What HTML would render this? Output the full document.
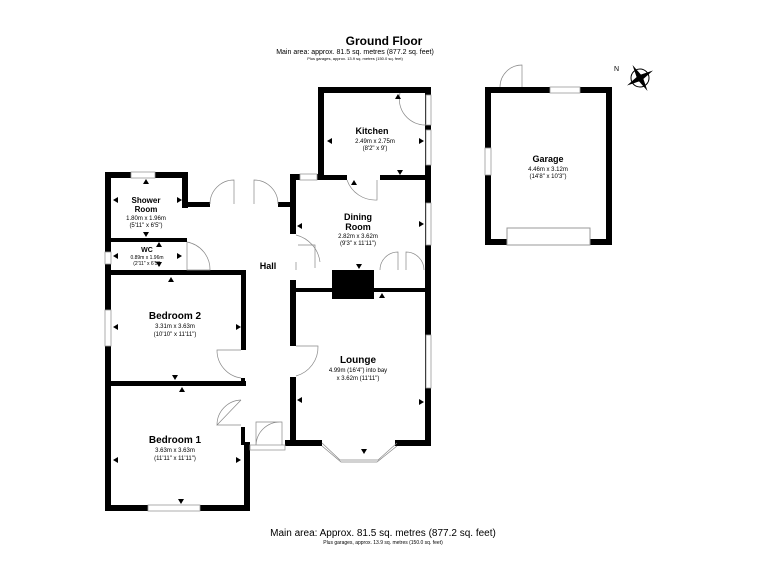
<!DOCTYPE html>
<html><head><style>body{margin:0;background:#fff}svg{display:block}text{font-family:"Liberation Sans",sans-serif;fill:#000}</style></head><body>
<svg width="768" height="576" viewBox="0 0 768 576" xmlns="http://www.w3.org/2000/svg">
<defs>
<path id="tu" d="M-3,2 L3,2 L0,-3Z" fill="#000"/>
<path id="td" d="M-3,-2 L3,-2 L0,3Z" fill="#000"/>
<path id="tl" d="M2,-3 L2,3 L-3,0Z" fill="#000"/>
<path id="tr" d="M-2,-3 L-2,3 L3,0Z" fill="#000"/>
</defs>
<text x="384" y="45" font-size="12" font-weight="bold" text-anchor="middle">Ground Floor</text>
<text x="355" y="54" font-size="7" text-anchor="middle">Main area: approx. 81.5 sq. metres (877.2 sq. feet)</text>
<text x="355" y="60" font-size="4" text-anchor="middle">Plus garages, approx. 13.9 sq. metres (150.0 sq. feet)</text>
<text x="383" y="536" font-size="10" text-anchor="middle">Main area: Approx. 81.5 sq. metres (877.2 sq. feet)</text>
<text x="383" y="544" font-size="5" text-anchor="middle">Plus garages, approx. 13.9 sq. metres (150.0 sq. feet)</text>
<g fill="#000">
<rect x="318" y="87" width="113" height="6"/><rect x="318" y="87" width="6" height="93"/>
<rect x="425" y="87" width="6" height="358"/>
<rect x="324" y="175" width="23" height="5"/><rect x="380" y="175" width="51" height="5"/>
<rect x="290" y="174" width="34" height="6"/><rect x="290" y="174" width="6" height="60"/>
<rect x="278" y="202" width="18" height="5"/>
<rect x="290" y="288" width="141" height="4"/>
<rect x="332" y="270" width="42" height="29"/>
<rect x="290" y="280" width="6" height="66"/><rect x="290" y="377" width="6" height="68"/>
<rect x="285" y="440" width="37" height="6"/><rect x="395" y="440" width="36" height="6"/>
<rect x="105" y="172" width="83" height="6"/><rect x="105" y="172" width="6" height="339"/>
<rect x="182" y="172" width="6" height="36"/><rect x="182" y="202" width="28" height="5"/>
<rect x="111" y="238" width="76" height="4"/>
<rect x="111" y="270" width="135" height="5"/>
<rect x="241" y="270" width="5" height="80"/>
<rect x="111" y="381" width="135" height="5"/>
<rect x="241" y="378" width="4" height="8"/>
<rect x="241" y="427" width="4" height="18"/>
<rect x="244" y="442" width="6" height="69"/>
<rect x="105" y="505" width="145" height="6"/>
<rect x="485" y="87" width="127" height="6"/><rect x="485" y="87" width="6" height="158"/>
<rect x="606" y="87" width="6" height="158"/><rect x="485" y="239" width="127" height="6"/>
</g>
<g fill="#fff" stroke="#999" stroke-width="0.8">
<rect x="426" y="95" width="5" height="30"/><rect x="426" y="130" width="5" height="35"/>
<rect x="426" y="203" width="5" height="42"/><rect x="426" y="335" width="5" height="53"/>
<rect x="300" y="174" width="17" height="6"/><rect x="131" y="172" width="24" height="6"/>
<rect x="105" y="252" width="6" height="12"/><rect x="105" y="310" width="6" height="36"/>
<rect x="148" y="505" width="52" height="6"/>
<rect x="550" y="87" width="30" height="6"/><rect x="485" y="148" width="6" height="27"/>
<rect x="507" y="228" width="83" height="17" stroke-width="1"/>
<rect x="250" y="445" width="35" height="5"/>
<rect x="347" y="175" width="33" height="5" stroke="none"/>
</g>
<g fill="none" stroke="#888" stroke-width="0.7">
<path d="M322,443 L340,460 L378,460 L397,443"/><path d="M322,446 L341,462 L377,462 L397,446"/>
<path d="M210,204 A24 24 0 0 1 234,180 L234,204"/><path d="M278,204 A24 24 0 0 0 254,180 L254,204"/>
<path d="M296,346 L318,346 A30 30 0 0 1 296,376"/>
<path d="M241,350 L217,350 A28 28 0 0 0 241,378"/>
<path d="M241,400 L217,425 L241,425 M241,400 A25 25 0 0 0 217,425"/>
<path d="M256,445 L256,422 L282,422 L282,445 M256,445 A24 24 0 0 1 280,422"/>
<path d="M187,242 L187,270 L210,270 A28 28 0 0 0 187,242"/>
<path d="M296,235 A32 32 0 0 1 320,262"/>
<path d="M296,262 L296,270 M298,245 L315,245 L315,268"/>
<path d="M380,270 A18 18 0 0 1 398,252 L398,270 M424,270 A18 18 0 0 0 406,252 L406,270"/>
<path d="M347,180 A30 30 0 0 0 377,200 L377,180"/>
<path d="M400,93 A26 26 0 0 0 426,125"/>
<path d="M500,87 A22 22 0 0 1 522,65 L522,87"/>
</g>
<g>
<use href="#tu" x="398" y="97"/><use href="#tl" x="330" y="141"/><use href="#tr" x="421" y="141"/><use href="#td" x="400" y="172"/><use href="#tu" x="354" y="183"/>
<use href="#tl" x="300" y="226"/><use href="#tr" x="421" y="224"/><use href="#td" x="359" y="266"/><use href="#tu" x="382" y="296"/>
<use href="#tu" x="146" y="182"/><use href="#tl" x="116" y="200"/><use href="#tr" x="179" y="200"/><use href="#td" x="146" y="234"/>
<use href="#tu" x="159" y="245"/><use href="#tl" x="116" y="256"/><use href="#tr" x="179" y="256"/><use href="#td" x="159" y="264"/>
<use href="#tu" x="171" y="280"/><use href="#tl" x="116" y="327"/><use href="#tr" x="238" y="327"/><use href="#td" x="175" y="377"/>
<use href="#tu" x="182" y="390"/><use href="#tl" x="116" y="460"/><use href="#tr" x="238" y="460"/><use href="#td" x="181" y="501"/>
<use href="#tl" x="300" y="400"/><use href="#tr" x="421" y="402"/><use href="#td" x="364" y="451"/>
</g>
<g font-size="6" text-anchor="middle">
<text x="372" y="134" font-size="9" font-weight="bold">Kitchen</text><text x="375" y="143">2.49m x 2.75m</text><text x="375" y="150">(8'2" x 9')</text>
<text x="358" y="220" font-size="9" font-weight="bold">Dining</text><text x="358" y="230" font-size="9" font-weight="bold">Room</text><text x="358" y="238">2.82m x 3.62m</text><text x="358" y="245">(9'3" x 11'11")</text>
<text x="146" y="203" font-size="8" font-weight="bold">Shower</text><text x="146" y="212" font-size="8" font-weight="bold">Room</text><text x="146" y="220">1.80m x 1.96m</text><text x="146" y="227">(5'11" x 6'5")</text>
<text x="147" y="252" font-size="7" font-weight="bold">WC</text><text x="147" y="259" font-size="5">0.89m x 1.96m</text><text x="147" y="265" font-size="5">(2'11" x 6'5")</text>
<text x="268" y="269" font-size="9" font-weight="bold">Hall</text>
<text x="175" y="319" font-size="10" font-weight="bold">Bedroom 2</text><text x="175" y="328">3.31m x 3.63m</text><text x="175" y="336">(10'10" x 11'11")</text>
<text x="175" y="443" font-size="10" font-weight="bold">Bedroom 1</text><text x="175" y="452">3.63m x 3.63m</text><text x="175" y="460">(11'11" x 11'11")</text>
<text x="358" y="363" font-size="10" font-weight="bold">Lounge</text><text x="358" y="372">4.99m (16'4") into bay</text><text x="358" y="380">x 3.62m (11'11")</text>
<text x="548" y="162" font-size="9" font-weight="bold">Garage</text><text x="548" y="171">4.46m x 3.12m</text><text x="548" y="178">(14'8" x 10'3")</text>
</g>
<g transform="translate(640,78)">
<circle r="9" fill="none" stroke="#000" stroke-width="1"/>
<path d="M0,-15 L3,0 L0,15 L-3,0Z M-15,0 L0,-3 L15,0 L0,3Z" fill="#000" transform="rotate(-30)"/>
<text x="-26" y="-7" font-size="7">N</text>
</g>
</svg>
</body></html>
